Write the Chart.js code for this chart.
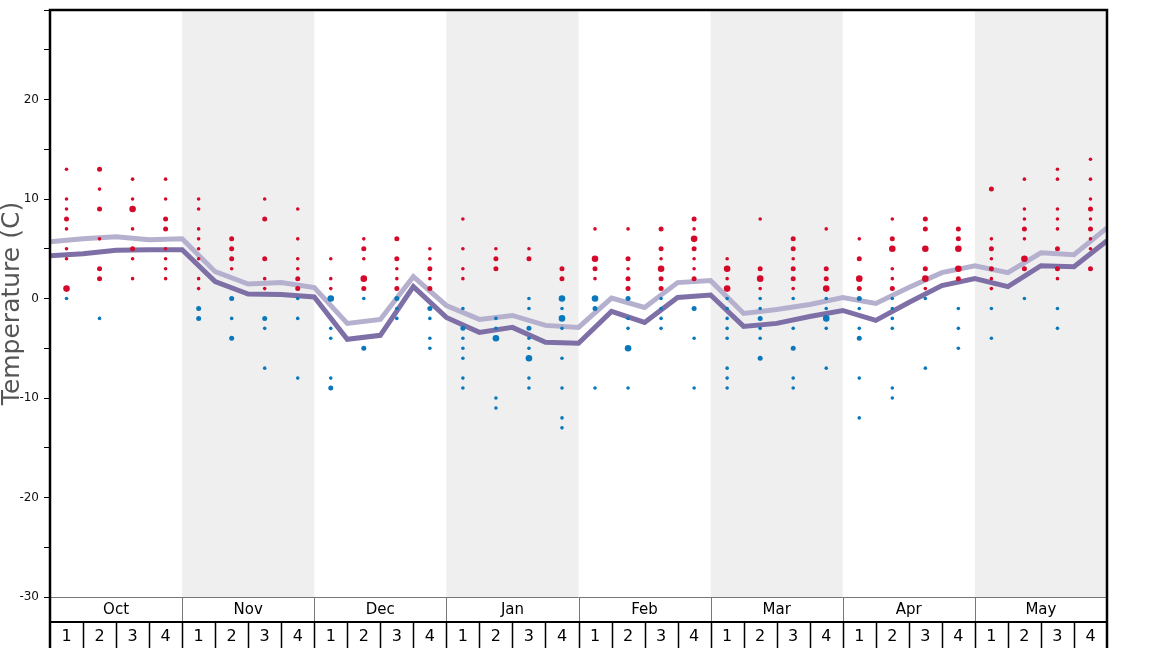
<!DOCTYPE html>
<html>
<head>
<meta charset="utf-8">
<script src="https://cdn.jsdelivr.net/npm/chart.js@4"></script>
<style>
  body { margin: 0; background: #fff; }
  canvas { display: block; }
</style>
</head>
<body>
<canvas id="tempChart" width="1168" height="648"></canvas>
<script>
// Month and week labels along the bottom
const months = ["Oct", "Nov", "Dec", "Jan", "Feb", "Mar", "Apr", "May"];
const weekLabels = months.flatMap(() => ["1", "2", "3", "4"]);

// Y axis ticks (labels only on multiples of 10)
const yTicks = [-30, -25, -20, -15, -10, -5, 0, 5, 10, 15, 20, 25, 29];

// Two smoothed lines, one value per week boundary (33 points)
const upperLine = [5.7, 6.0, 6.2, 5.9, 6.0, 2.7, 1.45, 1.6, 1.1, -2.5, -2.1, 2.2, -0.7, -2.1, -1.7, -2.7, -2.9,
  0.05, -0.9, 1.6, 1.8, -1.5, -1.1, -0.6, 0.1, -0.5, 1.1, 2.6, 3.3, 2.6, 4.6, 4.4, 7.1];
const lowerLine = [4.3, 4.5, 4.85, 4.9, 4.9, 1.7, 0.45, 0.4, 0.15, -4.1, -3.7, 1.2, -1.9, -3.4, -2.9, -4.4, -4.5,
  -1.3, -2.4, 0.1, 0.35, -2.8, -2.5, -1.8, -1.2, -2.2, -0.4, 1.3, 2.0, 1.2, 3.3, 3.2, 5.8];

// Dots per week: values and how many times each occurred
const dotValues = [
  [13, 10, 9, 8, 7, 5, 4, 1, 0],
  [13, 11, 9, 6, 3, 2, -2],
  [12, 10, 9, 7, 5, 4, 2],
  [12, 10, 8, 7, 5, 4, 3, 2],
  [10, 9, 7, 6, 5, 4, 2, 1, -1, -2],
  [6, 5, 4, 3, 0, -2, -4],
  [10, 8, 4, 2, 1, -2, -3, -7],
  [9, 6, 4, 3, 2, 1, 0, -2, -8],
  [4, 2, 1, 0, -3, -4, -8, -9],
  [6, 5, 4, 2, 1, 0, -5],
  [6, 4, 3, 2, 1, 0, -1, -2],
  [5, 4, 3, 2, 1, -1, -2, -4, -5],
  [8, 5, 3, 2, -1, -3, -4, -5, -6, -8, -9],
  [5, 4, 3, -2, -3, -4, -10, -11],
  [5, 4, 0, -1, -3, -4, -5, -6, -8, -9],
  [3, 2, 0, -1, -2, -3, -6, -9, -12, -13],
  [7, 4, 3, 2, 0, -1, -9],
  [7, 4, 3, 2, 1, 0, -2, -3, -5, -9],
  [7, 5, 4, 3, 2, 1, 0, -1, -2, -3],
  [8, 7, 6, 5, 4, 3, 2, -1, -4, -9],
  [4, 3, 2, 1, 0, -1, -2, -3, -4, -7, -8, -9],
  [8, 3, 2, 1, 0, -1, -2, -3, -4, -6],
  [6, 5, 4, 3, 2, 1, 0, -3, -5, -8, -9],
  [7, 3, 2, 1, 0, -1, -2, -3, -7],
  [6, 4, 2, 1, 0, -1, -3, -4, -8, -12],
  [8, 6, 5, 3, 2, 1, 0, -1, -2, -3, -9, -10],
  [8, 7, 5, 3, 2, 1, 0, -7],
  [7, 6, 5, 3, 2, -1, -3, -5],
  [11, 6, 5, 4, 3, 2, 1, -1, -4],
  [12, 9, 8, 7, 6, 4, 3, 0],
  [13, 12, 9, 8, 7, 5, 3, 2, -1, -3],
  [14, 12, 10, 9, 8, 7, 6, 5, 3]
];
const dotCounts = [
  [1, 1, 1, 2, 1, 1, 1, 3, 1],
  [2, 1, 2, 1, 2, 2, 1],
  [1, 1, 3, 1, 2, 1, 1],
  [1, 1, 2, 2, 1, 1, 1, 1],
  [1, 1, 1, 1, 1, 1, 1, 1, 2, 2],
  [2, 2, 2, 1, 2, 1, 2],
  [1, 2, 2, 1, 1, 2, 1, 1],
  [1, 1, 1, 1, 2, 2, 1, 1, 1],
  [1, 1, 1, 3, 1, 1, 1, 2],
  [1, 2, 1, 3, 2, 1, 2],
  [2, 2, 1, 1, 2, 2, 1, 1],
  [1, 1, 2, 1, 2, 2, 1, 1, 1],
  [1, 1, 1, 1, 1, 2, 1, 1, 1, 1, 1],
  [1, 2, 2, 1, 1, 3, 1, 1],
  [1, 2, 1, 1, 2, 1, 1, 3, 1, 1],
  [2, 2, 3, 1, 3, 1, 1, 1, 1, 1],
  [1, 3, 2, 1, 3, 2, 1],
  [1, 2, 1, 2, 2, 2, 1, 1, 3, 1],
  [2, 2, 1, 3, 2, 2, 1, 1, 1, 1],
  [2, 1, 3, 2, 1, 1, 2, 2, 1, 1],
  [1, 3, 1, 3, 1, 1, 1, 1, 1, 1, 1, 1],
  [1, 2, 3, 1, 1, 1, 2, 1, 1, 2],
  [2, 2, 1, 2, 2, 1, 1, 1, 2, 1, 1],
  [1, 2, 2, 3, 1, 1, 3, 1, 1],
  [1, 2, 3, 2, 2, 1, 1, 2, 1, 1],
  [1, 2, 3, 1, 1, 2, 1, 1, 1, 1, 1, 1],
  [2, 2, 3, 2, 3, 1, 1, 1],
  [2, 2, 3, 3, 2, 1, 1, 1],
  [2, 1, 2, 1, 2, 1, 1, 1, 1],
  [1, 1, 1, 2, 1, 3, 2, 1],
  [1, 1, 1, 1, 1, 2, 2, 1, 1, 1],
  [1, 1, 1, 2, 1, 2, 1, 1, 2]
];

const RED = "#d40a2a";
const BLUE = "#0a78ba";
const dotRadius = [0, 1.8, 2.5, 3.3];

// Build bubble points from the week arrays
const dots = [];
dotValues.forEach((vals, w) => {
  vals.forEach((v, j) => dots.push({ x: w + 0.5, y: v, r: dotRadius[dotCounts[w][j]] }));
});

const linePoints = (arr) => arr.map((v, i) => ({ x: i, y: v }));

// Shaded months and the boxed axis rows at the bottom
const framePlugin = {
  id: "frame",
  beforeDatasetsDraw(chart) {
    const { ctx, chartArea: a, scales: { x } } = chart;
    ctx.save();
    ctx.fillStyle = "#efefef";
    months.forEach((m, i) => {
      if (i % 2 === 1) {
        const x0 = x.getPixelForValue(i * 4);
        const x1 = x.getPixelForValue(i * 4 + 4);
        ctx.fillRect(x0, a.top, x1 - x0, a.bottom - a.top);
      }
    });
    ctx.restore();
  },
  afterDraw(chart) {
    const { ctx, chartArea: a, scales: { x, xm } } = chart;
    const bottom = chart.height;
    ctx.save();
    // plot bottom and month separators (grey)
    ctx.strokeStyle = "#777";
    ctx.lineWidth = 1;
    ctx.beginPath();
    ctx.moveTo(a.left, a.bottom + 0.5);
    ctx.lineTo(a.right, a.bottom + 0.5);
    for (let i = 1; i < months.length; i++) {
      const px = Math.round(x.getPixelForValue(i * 4)) + 0.5;
      ctx.moveTo(px, a.bottom);
      ctx.lineTo(px, xm.bottom);
    }
    ctx.stroke();
    // month / week divider and week separators (black)
    ctx.strokeStyle = "#000";
    ctx.lineWidth = 2;
    ctx.beginPath();
    ctx.moveTo(a.left, xm.bottom);
    ctx.lineTo(a.right, xm.bottom);
    ctx.stroke();
    ctx.lineWidth = 1.5;
    ctx.beginPath();
    for (let i = 1; i < weekLabels.length; i++) {
      const px = Math.round(x.getPixelForValue(i)) + 0.5;
      ctx.moveTo(px, xm.bottom);
      ctx.lineTo(px, bottom);
    }
    ctx.stroke();
    // outer frame
    ctx.lineWidth = 2.5;
    ctx.beginPath();
    ctx.moveTo(a.left, bottom);
    ctx.lineTo(a.left, a.top);
    ctx.lineTo(a.right, a.top);
    ctx.lineTo(a.right, bottom);
    ctx.stroke();
    ctx.restore();
  }
};

const ctx = document.getElementById("tempChart").getContext("2d");
new Chart(ctx, {
  type: "bubble",
  data: {
    datasets: [
      {
        type: "bubble",
        data: dots,
        backgroundColor: (c) => (c.raw && c.raw.y > 0 ? RED : BLUE),
        borderWidth: 0,
        order: 1
      },
      {
        type: "line",
        data: linePoints(upperLine),
        borderColor: "rgb(182, 176, 207)",
        borderWidth: 5,
        pointRadius: 0,
        tension: 0,
        fill: false,
        order: 2
      },
      {
        type: "line",
        data: linePoints(lowerLine),
        borderColor: "rgb(126, 112, 166)",
        borderWidth: 5,
        pointRadius: 0,
        tension: 0,
        fill: false,
        order: 3
      }
    ]
  },
  options: {
    responsive: false,
    animation: false,
    devicePixelRatio: 1,
    layout: { padding: { left: 0, top: 10, right: 61, bottom: 0 } },
    plugins: { legend: { display: false }, tooltip: { enabled: false } },
    scales: {
      y: {
        type: "linear",
        min: -30,
        max: 29,
        afterBuildTicks: (s) => { s.ticks = yTicks.map((v) => ({ value: v })); },
        afterFit: (s) => { s.width = 50; s.paddingTop = 0; s.paddingBottom = 0; },
        ticks: {
          callback: (v) => (v % 10 === 0 ? String(v) : ""),
          color: "#111",
          font: { family: "DejaVu Sans", size: 12 },
          padding: 5
        },
        grid: { drawOnChartArea: false, drawTicks: true, tickLength: 6, color: "#000" },
        border: { display: false },
        title: {
          display: true,
          text: "Temperature (C)",
          color: "#555",
          font: { family: "DejaVu Sans", size: 25, lineHeight: 1 },
          padding: { top: 0, bottom: 0 }
        }
      },
      xm: {
        type: "linear",
        position: "bottom",
        weight: 1,
        min: 0,
        max: 32,
        afterBuildTicks: (s) => { s.ticks = months.map((_, i) => ({ value: i * 4 + 2 })); },
        afterFit: (s) => { s.height = 25; },
        ticks: {
          autoSkip: false,
          maxRotation: 0,
          callback: (v, i) => months[i],
          color: "#000",
          font: { family: "DejaVu Sans", size: 15 },
          padding: 4
        },
        grid: { display: false, drawTicks: false },
        border: { display: false }
      },
      x: {
        type: "linear",
        position: "bottom",
        weight: 2,
        min: 0,
        max: 32,
        afterBuildTicks: (s) => { s.ticks = weekLabels.map((_, i) => ({ value: i + 0.5 })); },
        afterFit: (s) => { s.height = 26; },
        ticks: {
          autoSkip: false,
          maxRotation: 0,
          callback: (v, i) => weekLabels[i],
          color: "#000",
          font: { family: "DejaVu Sans", size: 16 },
          padding: 5
        },
        grid: { display: false, drawTicks: false },
        border: { display: false }
      }
    }
  },
  plugins: [framePlugin]
});
</script>
</body>
</html>
